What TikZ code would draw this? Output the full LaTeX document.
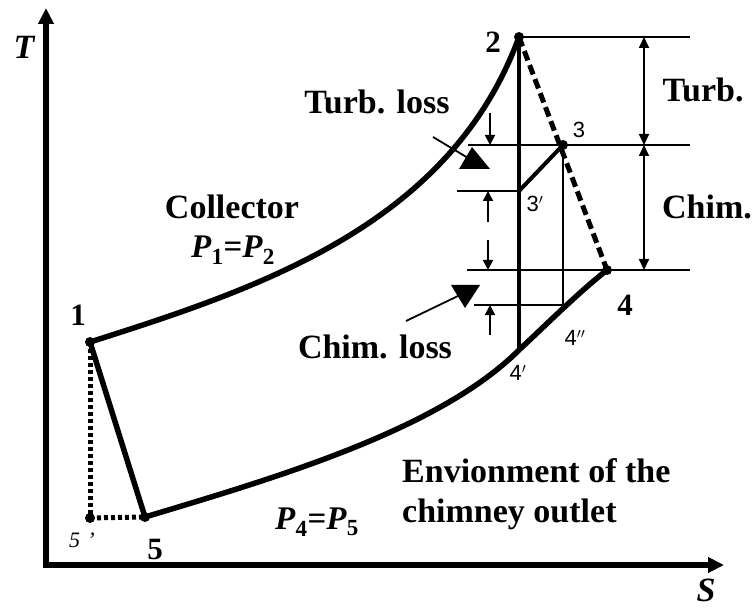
\documentclass[tikz,border=0pt]{standalone}
\usepackage{fontspec}
\setmainfont{Liberation Serif}
\newfontfamily\sansf{Liberation Sans}
\usetikzlibrary{arrows.meta}
\begin{document}
\begin{tikzpicture}[x=1pt,y=-1pt,
  thickln/.style={line width=5.5pt, line cap=round, line join=round},
  thinln/.style={line width=1.8pt},
  dimarrow/.style={line width=1.8pt, {Triangle[length=11pt,width=10pt]}-{Triangle[length=11pt,width=10pt]}},
  smallarrow/.style={line width=1.8pt, -{Triangle[length=10pt,width=10pt]}},
  dotpt/.style={circle, fill=black, inner sep=0pt, minimum size=10pt},
  bigtxt/.style={font=\fontsize{34}{36}\selectfont\bfseries, inner sep=0pt},
  numtxt/.style={font=\fontsize{31}{33}\selectfont\bfseries, inner sep=0pt},
  smalltxt/.style={font=\sansf\fontsize{22}{24}\selectfont, inner sep=0pt},
  axtxt/.style={font=\fontsize{34}{36}\selectfont\bfseries\itshape, inner sep=0pt}
]
\useasboundingbox (0,0) rectangle (754,609);
% axes
\coordinate (O) at (46,565);
\coordinate (Ttip) at (46,8);
\coordinate (Stip) at (724,565);
\draw[line width=5.5pt, -{Triangle[length=16pt,width=15pt]}] (O) -- (Ttip);
\draw[line width=5.5pt, -{Triangle[length=16pt,width=15pt]}] ([xshift=-2.75pt]O) -- (Stip);
\node[axtxt] (Tl) at (24,47) {T};
\node[axtxt] (Sl) at (706,590) {S};
% state points
\coordinate (P1) at (90,342);
\coordinate (P2) at (519,37);
\coordinate (P3) at (563,145);
\coordinate (P3p) at (519,191);
\coordinate (P4) at (607,270);
\coordinate (P4pp) at (563,308);
\coordinate (P4p) at (519,350);
\coordinate (P5) at (145,517);
\coordinate (P5p) at (90,518);
% horizontal reference lines
\coordinate (h1e) at (690,37);
\coordinate (h2s) at (468,145); \coordinate (h2e) at (690,145);
\coordinate (h3s) at (457,191);
\coordinate (h4s) at (467,270); \coordinate (h4e) at (690,270);
\coordinate (h5s) at (474,305);
\coordinate (h5e) at (566,305);
\draw[thinln] (P2) -- (h1e);
\draw[thinln] (h2s) -- (h2e);
\draw[thinln] (h3s) -- (P3p);
\draw[thinln] (h4s) -- (h4e);
\draw[thinln] (h5s) -- (h5e);
% curves
\draw[thickln] (P1) .. controls (260,288) and (450,225) .. (P2);
\draw[thickln] (P5) .. controls (275,478) and (439,430) .. (P4p) .. controls (549,322) and (578,293) .. (P4);
\draw[thickln] (P1) -- (P5);
\draw[line width=5pt, dash pattern=on 4pt off 3pt] (P1) -- (P5p);
\draw[line width=5pt, dash pattern=on 4pt off 3pt] (P5p) -- (P5);
\draw[line width=5pt, dash pattern=on 10pt off 5pt] (P2) -- (P4);
\draw[line width=3.8pt] (P2) -- (P4p);
\draw[line width=4pt] (P3p) -- (P3);
\draw[thinln] (P3) -- (P4pp);
% dots
\foreach \p in {P1,P2,P3,P4,P5,P5p} \node[dotpt] at (\p) {};
% dimension arrows
\coordinate (d1) at (644,37); \coordinate (d2) at (644,145); \coordinate (d3) at (644,270);
\draw[dimarrow] (d1) -- (d2);
\draw[dimarrow] (d2) -- (d3);
\node[bigtxt] (turb) at (703,90) {Turb.};
\node[bigtxt] (chim) at (707,207) {Chim.};
% small loss arrows
\coordinate (a1s) at (490,113); \coordinate (a1e) at (490,145);
\coordinate (a2s) at (488,222); \coordinate (a2e) at (488,191);
\coordinate (a3s) at (488,240); \coordinate (a3e) at (488,270);
\coordinate (a4s) at (490,335); \coordinate (a4e) at (490,305);
\draw[smallarrow] (a1s) -- (a1e);
\draw[smallarrow] (a2s) -- (a2e);
\draw[smallarrow] (a3s) -- (a3e);
\draw[smallarrow] (a4s) -- (a4e);
% loss pointers
\node[bigtxt] (tloss) at (377,102) {Turb. loss};
\coordinate (tl1) at (433,137); \coordinate (tl2) at (468,158);
\draw[thinln] (tl1) -- (tl2);
\fill (472,147) -- (459,169) -- (490,169) -- cycle;
\node[bigtxt] (closs) at (375,347) {Chim. loss};
\coordinate (cl1) at (406,321); \coordinate (cl2) at (458,296);
\draw[thinln] (cl1) -- (cl2);
\fill (451,285) -- (480,285) -- (465,308) -- cycle;
% labels
\node[bigtxt] (coll) at (232,207) {Collector};
\node[font=\fontsize{33}{35}\selectfont\bfseries, inner sep=0pt] (p12) at (233,250) {\textit{P}\textsubscript{1}=\textit{P}\textsubscript{2}};
\node[font=\fontsize{33}{35}\selectfont\bfseries, inner sep=0pt] (p45) at (317,522) {\textit{P}\textsubscript{4}=\textit{P}\textsubscript{5}};
\node[bigtxt, align=left, anchor=north west, font=\fontsize{34}{40}\selectfont\bfseries] (env) at (402,458) {Envionment of the\\chimney outlet};
\node[numtxt] (l1) at (78,315) {1};
\node[numtxt] (l2) at (493,42) {2};
\node[numtxt] (l4) at (625,305) {4};
\node[numtxt] (l5) at (155,549) {5};
\node[smalltxt] (l3) at (579,130) {3};
\node[smalltxt] (l3p) at (535,204) {3$'$};
\node[smalltxt] (l4pp) at (575,338) {4$''$};
\node[smalltxt] (l4p) at (518,373) {4$'$};
\node[font=\fontsize{22}{24}\selectfont\itshape, inner sep=0pt] (l5p) at (82,540) {5\,\,'};
\end{tikzpicture}
\end{document}
